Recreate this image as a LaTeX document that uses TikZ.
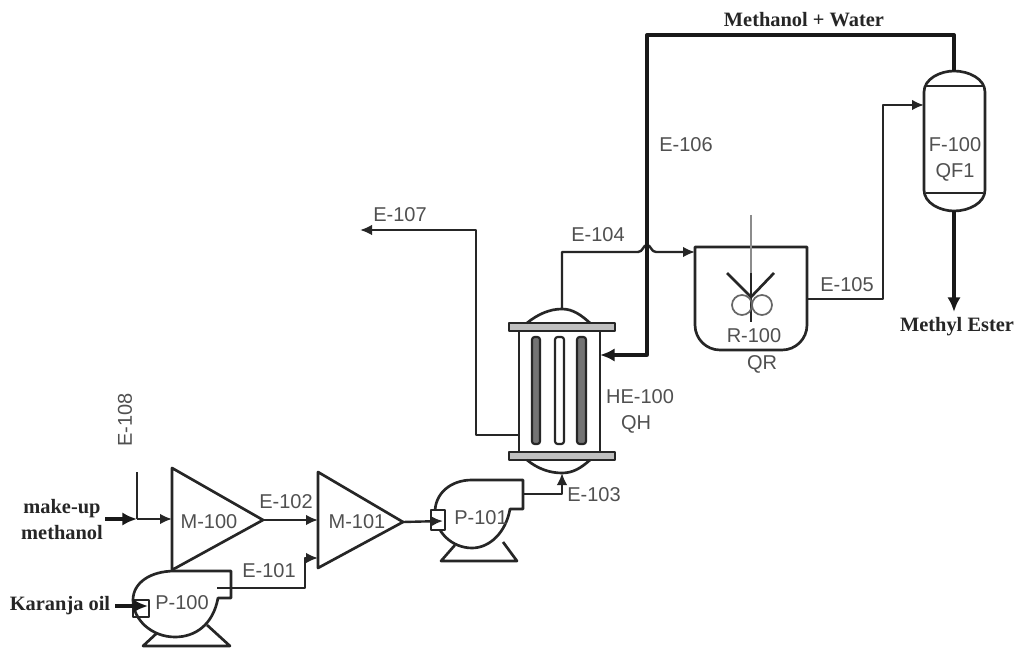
\documentclass[tikz,border=0pt]{standalone}
\usepackage{fontspec}
\setmainfont{Liberation Sans}
\newfontfamily\serifbold[BoldFont={Liberation Serif Bold}]{Liberation Serif}
\usetikzlibrary{arrows.meta}
\definecolor{inkc}{HTML}{262626}
\definecolor{labc}{HTML}{505050}
\tikzset{
 lab/.style={text=labc,font=\fontsize{15}{18}\selectfont,inner sep=0pt,align=center},
 boldlab/.style={text=black!85,font=\serifbold\bfseries\fontsize{15.3}{19.5}\selectfont,inner sep=0pt,align=center},
 equip/.style={draw=inkc,line width=2pt,line join=round},
 thinequip/.style={draw=inkc,line width=1.6pt,line join=round},
 stream/.style={draw=inkc,line width=1.8pt,line join=round,-{Latex[length=9pt,width=8pt]}},
 plain/.style={draw=inkc,line width=1.8pt,line join=round},
 heavy/.style={draw=black!90,line width=2.5pt,line join=round},
 heavyarr/.style={heavy,-{Latex[length=11pt,width=10pt]}}
}
\begin{document}
\begin{tikzpicture}[x=0.75pt,y=-0.75pt]
\useasboundingbox (0,0) rectangle (1024,648);
\fill[white] (0,0) rectangle (1024,648);
% ports
\coordinate (m0a) at (172,468); \coordinate (m0tip) at (263,520); \coordinate (m0b) at (172,570);
\coordinate (m0in) at (172,519);
\coordinate (m1a) at (318,472); \coordinate (m1tip) at (403,522); \coordinate (m1b) at (318,568);
\coordinate (m1in) at (318,520); \coordinate (m1in2) at (318,558);
\coordinate (makeup) at (105,519); \coordinate (join) at (137,519); \coordinate (e108) at (137,472);
\coordinate (p0in) at (115,606); \coordinate (p0inend) at (148,606);
\coordinate (p0out) at (217,588); \coordinate (p1in) at (443,521);
\coordinate (p1out) at (523,494); \coordinate (hebot) at (562,473);
\coordinate (hetop) at (562,309); \coordinate (heleft) at (519,435); \coordinate (heright) at (600,355);
\coordinate (e107end) at (360,230);
\coordinate (rin) at (695,252); \coordinate (rout) at (807,299);
\coordinate (ftop) at (954,71); \coordinate (fbot) at (954,211); \coordinate (fin) at (924,105);
\coordinate (esterend) at (954,312);
% mixers
\draw[equip] (m0a) -- (m0tip) -- (m0b) -- cycle;
\draw[equip] (m1a) -- (m1tip) -- (m1b) -- cycle;
% pump P-100
\draw[equip] (231,598) -- (218,598) .. controls (213,625) and (195,637) .. (175,637)
  .. controls (152,637) and (133,620) .. (133,600)
  .. controls (133,583) and (150,571) .. (175,571) -- (231,571) -- cycle;
\draw[equip] (157,633) -- (143,646) -- (230,646) -- (207,625);
\draw[equip] (133,600) rectangle (149,617);
% pump P-101
\draw[equip] (523,509) -- (510,509) .. controls (506,532) and (490,548) .. (472,548)
  .. controls (452,548) and (435,532) .. (435,512)
  .. controls (435,494) and (450,480) .. (472,480) -- (523,480) -- cycle;
\draw[equip] (455,545) -- (441,561) -- (517,561) -- (503,542);
\draw[equip,fill=white] (431,510) rectangle (445,530);
% heat exchanger
\draw[thinequip] (519,331) -- (519,452) (600,331) -- (600,452);
\draw[equip,fill=black!25] (509,323) rectangle (615,331);
\draw[equip,fill=black!25] (509,452) rectangle (615,460);
\draw[equip] (527,323) .. controls (538,314) and (550,309) .. (562,309) .. controls (573,309) and (581,315) .. (590,323);
\draw[equip] (527,460) .. controls (538,469) and (550,473) .. (562,473) .. controls (573,473) and (581,468) .. (590,460);
\draw[thinequip,fill=black!55,rounded corners=2pt] (532,337) rectangle (540,444);
\draw[thinequip,fill=white,rounded corners=2pt] (555,337) rectangle (564,444);
\draw[thinequip,fill=black!55,rounded corners=2pt] (577,337) rectangle (586,444);
% reactor
\draw[equip] (695,247) -- (807,247) -- (807,325) arc (0:90:25) -- (720,350) arc (90:180:25) -- cycle;
\draw[draw=black!45,line width=1.3pt] (751,215) -- (751,273);
\draw[equip] (751,273) -- (751,322);
\draw[equip] (727,273) -- (751,297) -- (774,273);
\draw[draw=black!60,line width=1.3pt] (742,305) circle (10) (762,305) circle (10);
% flash drum
\draw[equip] (924,92) .. controls (924,79) and (940,71) .. (954,71) .. controls (969,71) and (985,79) .. (985,92)
  -- (985,190) .. controls (985,203) and (969,211) .. (954,211) .. controls (940,211) and (924,203) .. (924,190) -- cycle;
\draw[equip] (926,86) -- (983,86) (926,193) -- (983,193);
% streams
\draw[heavyarr] (makeup) -- (join);
\draw[plain] (e108) -- (join);
\draw[stream] (join) -- (m0in);
\draw[stream] (m0tip) -- (m1in);
\draw[stream] (p0out) -| (305,558) -- (m1in2);
\draw[heavyarr] (p0in) -- (p0inend);
\draw[stream] (m1tip) -- (p1in);
\draw[stream] (p1out) -| (hebot);
\draw[stream] (heleft) -| (476,230) -- (e107end);
\draw[stream] (hetop) |- (638,252) .. controls (643,252) and (643,245) .. (647,245) .. controls (651,245) and (651,252) .. (656,252) -- (rin);
\draw[heavyarr] (ftop) |- (647,35) |- (heright);
\draw[stream] (rout) -| (883,105) -- (fin);
\draw[heavyarr] (fbot) -- (esterend);
% labels
\node[lab] (l106) at (686,145) {E-106};
\node[lab] (l107) at (400,215) {E-107};
\node[lab] (l104) at (598,235) {E-104};
\node[lab] (l105) at (847,285) {E-105};
\node[lab] (l103) at (594,495) {E-103};
\node[lab] (l102) at (286,502) {E-102};
\node[lab] (l101) at (269,571) {E-101};
\node[lab,rotate=90] (l108) at (125,420) {E-108};
\node[lab] (lm0) at (209,522) {M-100};
\node[lab] (lm1) at (357,522) {M-101};
\node[lab] (lp0) at (182,603) {P-100};
\node[lab] (lp1) at (481,518) {P-101};
\node[lab] (lhe) at (640,397) {HE-100};
\node[lab] (lqh) at (636,424) {QH};
\node[lab] (lr) at (754,336) {R-100};
\node[lab] (lqr) at (762,364) {QR};
\node[lab] (lf) at (955,145) {F-100};
\node[lab] (lqf) at (955,172) {QF1};
\node[boldlab] (lmw) at (804,20) {Methanol + Water};
\node[boldlab] (lme) at (957,327) {Methyl Ester};
\node[boldlab] (lmu) at (62,520) {make-up\\methanol};
\node[boldlab] (lko) at (60,606) {Karanja oil};
\end{tikzpicture}
\end{document}
